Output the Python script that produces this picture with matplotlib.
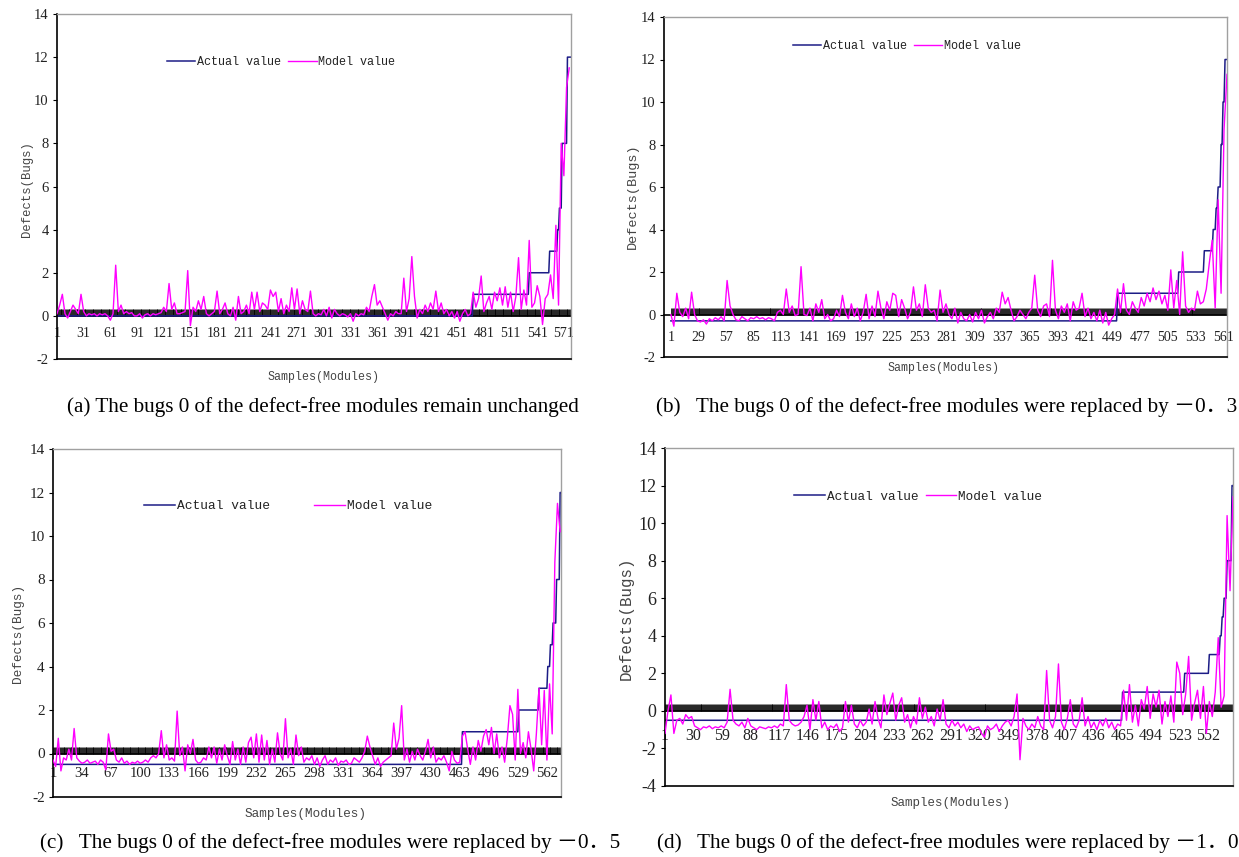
import numpy as np
import matplotlib
matplotlib.use('Agg')
import matplotlib.pyplot as plt
from matplotlib.ticker import FixedLocator

plt.rcParams['axes.unicode_minus'] = False

W, H = 1239, 857
NAVY = '#1c1c86'
MAG = '#ff00ff'
TXT = '#222222'

# ---------------- data ----------------
# model values sampled every 3rd module (modules 1, 4, 7, ...)
model_a = [
    0.1, 0.5, 1.0, 0.1, -0.1, 0.2, 0.5, 0.3, 0.1, 1.0,
    0.2, 0.0, 0.1, 0.05, 0.1, 0.0, 0.1, 0.05, 0.1, 0.0,
    -0.2, 0.1, 2.35, 0.2, 0.5, 0.1, 0.2, 0.1, 0.15, 0.0,
    0.0, 0.1, -0.1, 0.05, 0.1, 0.0, 0.1, 0.05, 0.1, 0.15,
    0.4, 0.2, 1.5, 0.3, 0.6, 0.1, 0.1, 0.15, 0.2, 2.1,
    -0.45, 0.4, 0.2, 0.7, 0.3, 0.9, 0.1, 0.0, 0.1, 0.2,
    1.15, 0.1, 0.3, 0.6, 0.1, 0.0, 0.4, -0.2, 0.9, 0.1,
    0.2, 0.5, 0.1, 1.1, 0.3, 1.1, 0.2, 0.6, 0.5, 0.3,
    1.2, 0.9, 1.1, 0.2, 0.8, 0.1, 0.5, 0.2, 1.3, 0.3,
    1.25, 0.1, 0.7, 0.3, 0.2, 1.15, 0.1, 0.0, 0.1, 0.05,
    0.3, 0.0, 0.4, -0.1, 0.3, 0.1, 0.0, 0.1, 0.05, -0.05,
    0.1, -0.25, 0.1, 0.0, 0.1, 0.05, 0.4, 0.2, 0.9, 1.45,
    0.5, 0.7, 0.4, 0.1, -0.2, 0.1, 0.0, 0.2, 0.1, 0.1,
    1.75, 0.2, 0.8, 2.75, 0.9, -0.1, 0.3, 0.1, 0.5, 0.2,
    0.6, 0.3, 1.15, 0.2, 0.6, 0.1, 0.3, 0.0, 0.2, -0.1,
    0.2, -0.25, 0.1, 0.3, 0.0, 0.1, 1.1, 0.4, 0.8, 1.85,
    0.2, 0.6, 0.9, 0.3, 1.1, 0.7, 1.3, 0.5, 1.35, 0.4,
    1.1, 0.2, 0.9, 2.7, 0.3, 1.2, 0.5, 3.5, 0.4, 0.6,
    1.4, 0.9, -0.4, 0.8, 1.0, 1.9, 0.8, 4.2, 0.5, 8.0,
    6.5, 10.6, 11.5,
]
model_b = [
    0.0, -0.55, 1.0, 0.1, -0.1, 0.3, -0.2, 1.05, 0.0, -0.3,
    -0.35, -0.25, -0.45, -0.2, -0.3, -0.15, -0.25, -0.1, -0.3, 1.6,
    0.4, 0.0, -0.25, -0.3, -0.1, -0.2, -0.3, -0.15, -0.2, -0.1,
    -0.2, -0.15, -0.25, -0.15, -0.2, -0.3, 0.1, 0.2, 0.0, 1.2,
    0.1, 0.4, -0.05, 0.0, 2.25, 0.0, -0.05, 0.3, -0.3, 0.5,
    0.1, 0.7, -0.2, 0.0, -0.3, -0.2, 0.2, -0.1, 0.9, 0.1,
    -0.2, 0.5, -0.1, 0.3, -0.3, 0.1, 0.95, -0.2, 0.4, -0.1,
    1.1, 0.3, -0.2, 0.6, 0.2, 1.0, 0.9, -0.1, 0.7, 0.3,
    -0.2, 0.1, 1.3, 0.2, 0.5, -0.1, 1.4, 0.3, 0.1, 0.2,
    -0.3, 1.15, 0.1, 0.5, 0.0, -0.2, 0.3, -0.4, 0.1, -0.2,
    -0.3, 0.0, -0.35, 0.1, -0.2, 0.2, -0.4, -0.1, 0.1, -0.2,
    0.3, 0.1, 1.05, 0.5, 0.8, 0.2, -0.3, -0.1, 0.2, 0.0,
    -0.2, 0.1, 0.3, 1.85, 0.2, -0.1, 0.4, 0.5, -0.1, 2.55,
    0.2, -0.2, 0.4, 0.1, 0.5, -0.3, 0.6, 0.2, 0.3, 1.0,
    -0.1, 0.3, -0.2, 0.1, -0.3, 0.2, -0.4, 0.1, -0.5, -0.2,
    0.0, 1.2, 0.1, 1.45, 0.2, 0.0, 0.6, 0.3, 0.1, 0.8,
    0.4, 1.0, 0.6, 1.25, 0.7, 1.1, 0.5, 0.9, 0.2, 2.1,
    0.3, 1.6, 0.0, 2.95, 0.4, 0.1, 0.3, 0.2, 1.1, 0.5,
    0.6, 1.2, 2.4, 3.5, 0.3, 5.4, 1.0, 8.7, 11.3,
]
model_c = [
    -0.3, -0.6, 0.7, -0.8, -0.2, -0.3, 0.2, -0.3, 1.15, -0.2,
    -0.35, -0.45, -0.4, -0.3, -0.45, -0.4, -0.35, -0.5, -0.3, -0.4,
    -0.75, 0.9, 0.1, 0.2, -0.3, -0.4, -0.2, -0.45, -0.35, -0.5,
    -0.4, -0.45, -0.35, -0.45, -0.4, -0.3, -0.4, -0.2, -0.1, -0.2,
    0.0, 1.05, -0.2, 0.4, -0.3, -0.2, -0.35, 1.95, -0.1, 0.3,
    -0.8, 0.4, 0.0, 0.65, -0.3, -0.45, -0.4, -0.2, -0.3, 0.3,
    -0.2, 0.3, -0.45, 0.2, -0.3, 0.4, -0.1, -0.5, 0.55, -0.3,
    0.2, -0.5, 0.3, -0.4, 0.5, 0.75, -0.2, 0.9, -0.4, 0.85,
    -0.3, 0.6, -0.5, 0.2, -0.4, 0.95, 0.0, -0.3, 1.6, -0.2,
    0.2, -0.5, 0.85, -0.1, 0.3, -0.4, -0.2, -0.3, -0.1, -0.5,
    -0.2, -0.6, -0.3, -0.1, -0.5, -0.3, -0.4, -0.2, -0.55, -0.35,
    -0.4, -0.3, -0.5, -0.45, -0.2, -0.3, -0.4, -0.2, 0.1, 0.8,
    0.3, -0.1, -0.5, -0.2, -0.6, -0.4, -0.3, -0.2, -0.1, 1.4,
    0.2, 0.7, 2.2, -0.3, 0.2, -0.4, 0.1, -0.3, 0.2, -0.1,
    -0.3, 0.1, 0.65, -0.2, 0.3, -0.4, -0.2, -0.3, -0.1, -0.4,
    -0.8, 0.1, -0.3, -0.45, -0.4, 0.8, 1.0, 0.2, -0.5, 0.3,
    -0.3, 0.6, 0.1, 0.8, 1.1, 0.4, 1.2, 0.0, 0.9, -0.2,
    0.3, -0.4, 0.7, 2.2, 1.8, -0.3, 2.95, 0.0, 0.5, -0.2,
    1.0, 0.2, -0.8, 0.9, 3.0, 0.4, 2.9, -0.3, 3.2, 0.9,
    8.8, 11.5, 10.2,
]
model_d = [
    -1.2, 0.0, 0.85, -1.2, -0.5, -0.4, -0.7, -0.2, -0.4, -0.3,
    -0.8, -0.9, -1.0, -0.85, -0.9, -0.8, -0.95, -0.85, -0.9, -0.8,
    -0.9, -0.6, 1.15, -0.5, -0.7, -0.8, -0.6, -0.9, -0.4, -0.8,
    -0.9, -1.0, -0.85, -0.9, -0.95, -0.85, -0.9, -0.8, -0.9, -0.7,
    -0.8, 1.4, -0.5, -0.7, -0.8, -0.75, -0.6, -0.3, 0.3, -1.0,
    0.6, -0.5, 0.5, -0.9, -0.6, -1.0, -0.8, -0.9, -0.7, -1.1,
    -0.9, 0.5, -0.6, 0.3, -0.7, -0.9, -0.5, -0.8, -0.6, 0.1,
    -0.7, 0.5, -0.4, -0.9, 0.85, -0.2, 0.4, 0.95, -0.5, 0.3,
    0.7, -0.6, -0.2, -0.9, -0.3, -0.7, 0.7, -0.4, 0.2, -0.6,
    -0.3, -0.8, 0.1, -0.5, 0.6, -0.7, -0.9, -0.5, -0.8, -0.6,
    -0.9, -0.7, -1.1, -0.8, -1.0, -0.9, -0.85, -1.2, -1.4, -0.8,
    -1.0, -0.9, -0.7, -1.1, -0.8, -0.6, -0.5, -0.8, -0.3, 0.9,
    -2.6, -0.4, -0.8, -1.0, -0.7, -0.9, -0.3, -0.8, -1.0, 2.15,
    -0.5, -0.9, -0.3, 2.5, -0.6, -1.0, -0.4, 0.6, -0.7, -0.9,
    -0.5, 0.7, -0.8, -0.3, -0.9, -0.6, -1.0, -0.5, -0.8, -0.4,
    -0.9, -0.6, -1.0, -0.7, -0.8, 1.1, -0.5, 1.4, -0.6, 0.3,
    -0.8, 0.6, 0.1, 1.3, -0.4, 0.9, 0.2, 1.1, -0.7, 0.5,
    -0.3, 0.8, -0.6, 2.6, 2.0, -0.2, 0.9, 2.9, -0.5, 0.4,
    1.1, -0.4, 1.3, -1.2, 0.5, -0.3, 1.0, 3.9, 0.2, 0.8,
    10.4, 6.4, 11.4,
]

# actual values as run lengths: (level, number of modules)
actual_a_levels = [0, 1, 2, 3, 4, 5, 8, 12]
actual_a_counts = [468, 63, 23, 9, 2, 3, 6, 5]
actual_b_levels = [-0.3, 1, 2, 3, 4, 5, 6, 8, 10, 12]
actual_b_counts = [453, 62, 26, 9, 3, 2, 3, 2, 2, 3]
actual_c_levels = [-0.5, 1, 2, 3, 4, 5, 6, 8, 12]
actual_c_counts = [465, 64, 23, 10, 3, 3, 4, 4, 2]
actual_d_levels = [-0.5, 1, 2, 3, 4, 5, 6, 8, 12]
actual_d_counts = [464, 63, 25, 11, 2, 2, 3, 5, 2]

xticks_a = list(range(1, 572, 30))
xticks_b = list(range(1, 562, 28))
xticks_c = list(range(1, 563, 33))
xticks_d = list(range(1, 553, 29))

captions = [
    "(a) The bugs 0 of the defect-free modules remain unchanged",
    "(b)   The bugs 0 of the defect-free modules were replaced by \uff0d0\uff0e3",
    "(c)   The bugs 0 of the defect-free modules were replaced by \uff0d0\uff0e5",
    "(d)   The bugs 0 of the defect-free modules were replaced by \uff0d1\uff0e0",
]

# ---------------- layout ----------------
panels = [
    dict(model=model_a, lv=actual_a_levels, ct=actual_a_counts, xt=xticks_a,
         rect=(57, 14, 571, 359), ylim=(-2, 14), xlim=(1, 579),
         leg=(0.214, 0.861, 8.5, 0.6), xfs=10, yfs=10.5, ylab=(27, 189, 8.8),
         xlab=(323, 377, 8.4), cap=(323, 407), pad=8),
    dict(model=model_b, lv=actual_b_levels, ct=actual_b_counts, xt=xticks_b,
         rect=(664, 17, 1227, 357), ylim=(-2, 14), xlim=(-6, 565),
         leg=(0.229, 0.915, 8.5, 0.6), xfs=10, yfs=10.5, ylab=(633, 196, 9.7),
         xlab=(944, 368, 8.4), cap=(947, 407), pad=12),
    dict(model=model_c, lv=actual_c_levels, ct=actual_c_counts, xt=xticks_c,
         rect=(53, 449, 561, 797), ylim=(-2, 14), xlim=(1, 578),
         leg=(0.179, 0.836, 9.3, 3.4), xfs=10.5, yfs=11, ylab=(18, 633, 9.2),
         xlab=(306, 814, 9.2), cap=(330, 843), pad=10),
    dict(model=model_d, lv=actual_d_levels, ct=actual_d_counts, xt=xticks_d,
         rect=(665, 448, 1233, 786), ylim=(-4, 14), xlim=(1, 577),
         leg=(0.227, 0.856, 9.2, 0.6), xfs=11.5, yfs=13, ylab=(626, 618, 11.4),
         xlab=(951, 803, 9.0), cap=(948, 843), pad=12),
]

fig = plt.figure(figsize=(W / 100, H / 100), dpi=100)
SERIF = ['Liberation Serif', 'Noto Sans CJK SC']
MONO = 'Liberation Mono'

for p, cap in zip(panels, captions):
    l, t, r, b = p['rect']
    ax = fig.add_axes([l / W, 1 - b / H, (r - l) / W, (b - t) / H])
    actual = np.repeat(p['lv'], p['ct'])
    xa = np.arange(1, len(actual) + 1)
    model = np.asarray(p['model'])
    xm = np.arange(len(model)) * 3 + 1
    ax.plot(xa, actual, color=NAVY, lw=1.1, label='Actual value', zorder=2)
    ax.plot(xm, model, color=MAG, lw=1.0, label='Model value', zorder=3)
    y0, y1 = p['ylim']
    ax.set_ylim(y0, y1)
    ax.set_xlim(*p['xlim'])
    ax.set_xticks([])
    ax.set_yticks(np.arange(y0, y1 + 1, 2))
    ax.tick_params(axis='y', direction='out', length=3, width=0.8,
                   labelsize=p['yfs'], labelcolor=TXT, pad=3)
    for lab in ax.get_yticklabels():
        lab.set_family('Liberation Serif')
    for s in ['left', 'bottom']:
        ax.spines[s].set_color('black')
        ax.spines[s].set_linewidth(1.2)
    for s in ['top', 'right']:
        ax.spines[s].set_color('#a0a0a0')
        ax.spines[s].set_linewidth(1.0)

    # category axis crossing at zero with a tick mark for every module
    frac0 = (0 - y0) / (y1 - y0)
    sec = ax.secondary_xaxis(frac0)
    sec.set_xticks(p['xt'])
    sec.set_xticklabels([str(v) for v in p['xt']])
    sec.xaxis.set_minor_locator(FixedLocator(np.arange(1, len(actual) + 1)))
    sec.tick_params(which='both', direction='in', length=5, width=0.6,
                    color='black')
    sec.tick_params(which='major', labelsize=p['xfs'], labelcolor=TXT,
                    pad=p['pad'])
    for lab in sec.get_xticklabels():
        lab.set_family('Liberation Serif')
    for s in sec.spines.values():
        s.set_linewidth(1.2)
        s.set_color('black')

    lx, ly, lfs, csp = p['leg']
    ax.legend(loc='center left', bbox_to_anchor=(lx, ly), ncol=2,
              frameon=False, prop={'family': MONO, 'size': lfs},
              handlelength=2.4, handletextpad=0.15, columnspacing=csp,
              borderpad=0, borderaxespad=0, labelcolor=TXT)

    yx, yy, yfs = p['ylab']
    fig.text(yx / W, 1 - yy / H, 'Defects(Bugs)', rotation=90, ha='center',
             va='center', family=MONO, fontsize=yfs, color='#444444')
    xx, xy, xfs = p['xlab']
    fig.text(xx / W, 1 - xy / H, 'Samples(Modules)', ha='center', va='center',
             family=MONO, fontsize=xfs, color='#444444')
    cx, cy = p['cap']
    fig.text(cx / W, 1 - cy / H, cap, ha='center', va='center', family=SERIF,
             fontsize=15.2, color='black')

fig.savefig('out.png', dpi=100)
